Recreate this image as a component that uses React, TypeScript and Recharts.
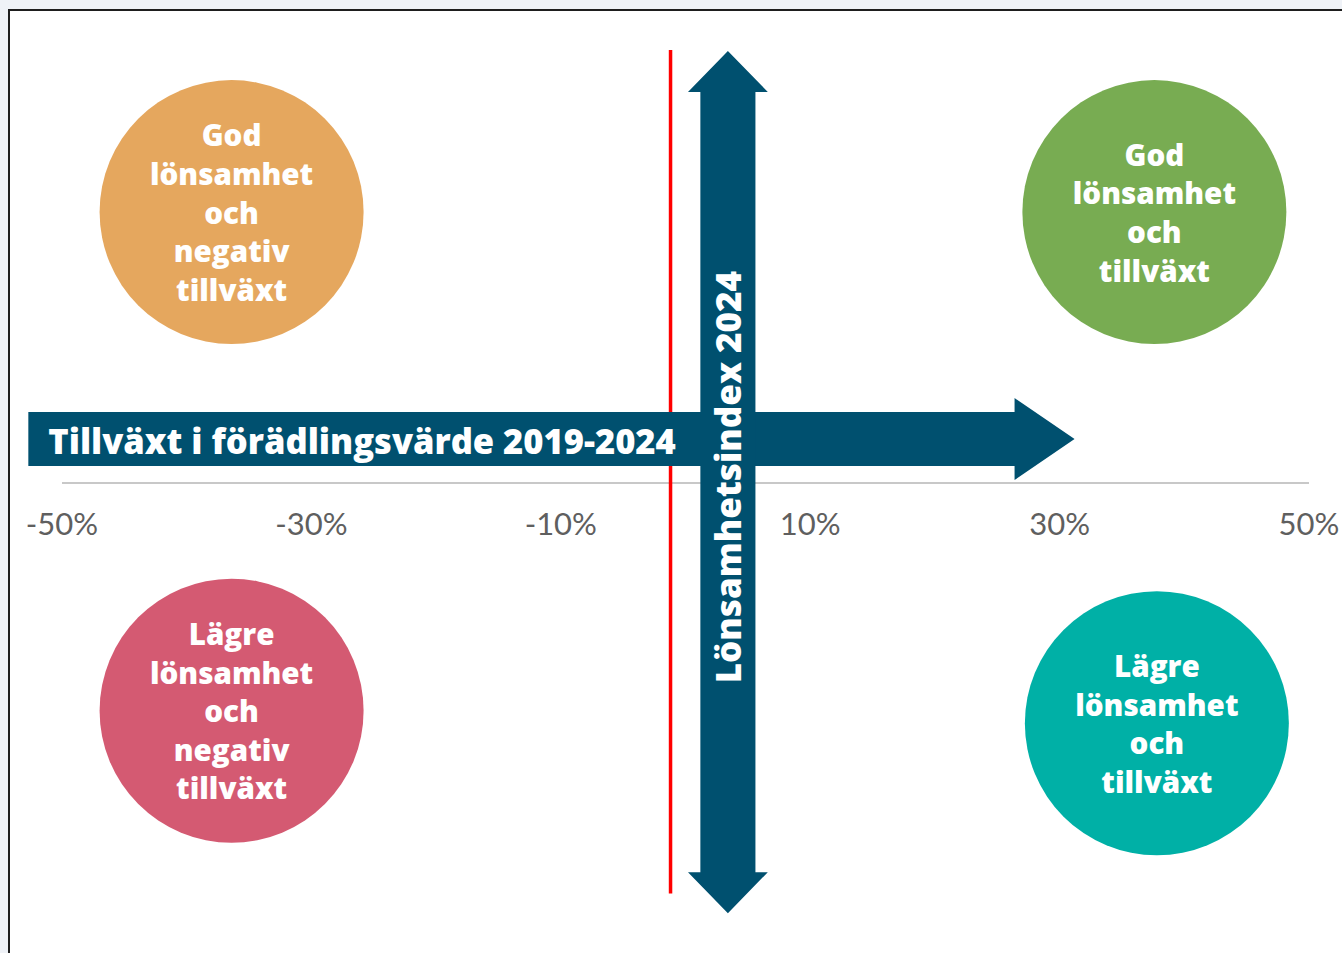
import { ComposedChart, ReferenceArea, Scatter, XAxis, YAxis } from 'recharts';

// growth in value added 2019-2024 (%), x axis
const xTicks = [-50, -30, -10, 10, 30, 50];
const breakEvenGrowth = -1.2;

// quadrant bubbles
const quadrantNames = ['godNegativ', 'godTillvaxt', 'lagreNegativ', 'lagreTillvaxt'];
const quadrantGrowth = [-36.4, 37.6, -36.4, 37.8];
const quadrantIndex = [30.1, 30.1, -25.3, -26.7];
const quadrantLines = [
  ['God', 'lönsamhet', 'och', 'negativ', 'tillväxt'],
  ['God', 'lönsamhet', 'och', 'tillväxt'],
  ['Lägre', 'lönsamhet', 'och', 'negativ', 'tillväxt'],
  ['Lägre', 'lönsamhet', 'och', 'tillväxt'],
];

// axis arrows (data extents)
const growthArrowX = [-52.7, 31.2];
const growthArrowY = [0.33, 9.44];
const indexArrowX = [0.2, 6.6];
const indexArrowY = [-47.8, 48];
const redLineY = [-45.6, 48.1];
const redLineHalfWidth = 0.14;
const zeroBand = [-0.11, 0.11];

const growthTitle = 'Tillväxt i förädlingsvärde 2019-2024';
const indexTitle = 'Lönsamhetsindex 2024';

const colors = ['#E5A75E', '#78AC52', '#D45A72', '#00B0A6'];
const arrowColor = '#00506F';
const boldFont = '"Open Sans", Lato, sans-serif';
const tickFont = 'Lato, "Open Sans", sans-serif';

const bubbles = quadrantNames.map((name, i) => ({
  name,
  growth: quadrantGrowth[i],
  index: quadrantIndex[i],
  lines: quadrantLines[i],
  color: colors[i],
}));

const ZERO_Y = 472;

function XTick(props: any) {
  const { x, payload } = props;
  return (
    <text x={x} y={ZERO_Y + 40} textAnchor="middle" dominantBaseline="central"
      fontFamily={tickFont} fontSize={31} fill="#5f5f5f">
      {`${payload.value}%`}
    </text>
  );
}

function GrowthArrow(props: any) {
  const { x, y, width: w, height: h } = props;
  const bodyH = h * 0.66;
  const headL = 60;
  const cy = y + h / 2;
  const pts = [
    [x, cy - bodyH / 2], [x + w - headL, cy - bodyH / 2], [x + w - headL, y], [x + w, cy],
    [x + w - headL, y + h], [x + w - headL, cy + bodyH / 2], [x, cy + bodyH / 2],
  ];
  return (
    <g>
      <polygon points={pts.map((p) => p.join(',')).join(' ')} fill={arrowColor} />
      <text x={x + 20} y={cy + 1} dominantBaseline="central" fontFamily={boldFont}
        fontWeight={800} fontSize={34.5} fill="#fff">
        {growthTitle}
      </text>
    </g>
  );
}

function IndexArrow(props: any) {
  const { x, y, width: w, height: h } = props;
  const bodyW = w * 0.69;
  const headL = 41;
  const cx = x + w / 2;
  const pts = [
    [cx, y], [x + w, y + headL], [cx + bodyW / 2, y + headL], [cx + bodyW / 2, y + h - headL],
    [x + w, y + h - headL], [cx, y + h], [x, y + h - headL], [cx - bodyW / 2, y + h - headL],
    [cx - bodyW / 2, y + headL], [x, y + headL],
  ];
  const ty = y + h / 2 - 5;
  return (
    <g>
      <polygon points={pts.map((p) => p.join(',')).join(' ')} fill={arrowColor} />
      <text x={cx} y={ty} transform={`rotate(-90 ${cx} ${ty})`} textAnchor="middle"
        dominantBaseline="central" fontFamily={boldFont} fontWeight={800} fontSize={35} fill="#fff">
        {indexTitle}
      </text>
    </g>
  );
}

function Bubble(props: any) {
  const { cx, cy, payload } = props;
  const lines: string[] = payload.lines;
  const step = 38.6;
  const first = cy - ((lines.length - 1) * step) / 2;
  return (
    <g>
      <circle cx={cx} cy={cy} r={132} fill={payload.color} />
      <text textAnchor="middle" fontFamily={boldFont} fontWeight={800} fontSize={29.6} fill="#fff">
        {lines.map((line, i) => (
          <tspan key={i} x={cx} y={first + i * step} dominantBaseline="central">
            {line}
          </tspan>
        ))}
      </text>
    </g>
  );
}

export default function App() {
  return (
    <>
      <style>{'body{margin:0;background:#eff2f7;overflow:hidden}'}</style>
      <div
        style={{
          position: 'absolute',
          left: 8,
          top: 9,
          width: 1334,
          height: 944,
          background: '#fff',
          borderTop: '2px solid #1e1e1e',
          borderLeft: '2px solid #1e1e1e',
        }}
      >
        <ComposedChart width={1332} height={942} data={bubbles}
          margin={{ top: 22, right: 33, bottom: 19, left: 52 }}>
          <XAxis dataKey="growth" type="number" domain={[-50, 50]} ticks={xTicks} interval={0}
            axisLine={false} tickLine={false} tick={<XTick />} height={1} />
          <YAxis dataKey="index" type="number" domain={[-50, 50]} hide />
          <ReferenceArea x1={-50} x2={50} y1={zeroBand[0]} y2={zeroBand[1]}
            fill="#c8c8c8" fillOpacity={1} ifOverflow="visible" />
          <ReferenceArea x1={breakEvenGrowth - redLineHalfWidth} x2={breakEvenGrowth + redLineHalfWidth}
            y1={redLineY[0]} y2={redLineY[1]} fill="#ff0000" fillOpacity={1} ifOverflow="visible" />
          <ReferenceArea x1={growthArrowX[0]} x2={growthArrowX[1]} y1={growthArrowY[0]} y2={growthArrowY[1]}
            ifOverflow="visible" shape={(p: any) => <GrowthArrow {...p} />} />
          <ReferenceArea x1={indexArrowX[0]} x2={indexArrowX[1]} y1={indexArrowY[0]} y2={indexArrowY[1]}
            ifOverflow="visible" shape={(p: any) => <IndexArrow {...p} />} />
          <Scatter data={bubbles} dataKey="index" shape={(p: any) => <Bubble {...p} />}
            isAnimationActive={false} />
        </ComposedChart>
      </div>
    </>
  );
}
